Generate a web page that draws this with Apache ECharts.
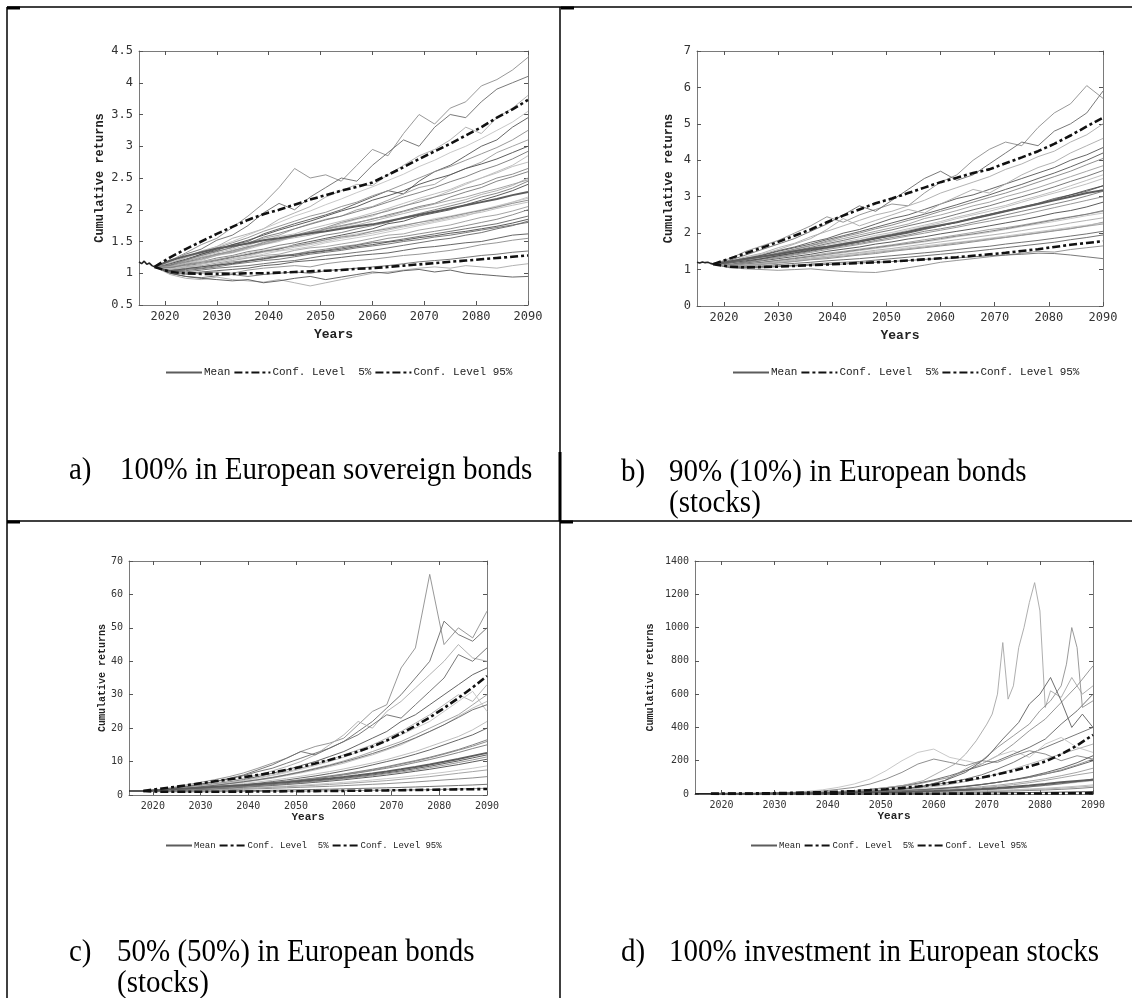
<!DOCTYPE html>
<html><head><meta charset="utf-8">
<script src="https://cdn.jsdelivr.net/npm/echarts@6/dist/echarts.min.js"></script>
<style>html,body{margin:0;padding:0;background:#fff}#c{width:1132px;height:998px}</style>
</head><body><div id="c"></div>
<script>
// ---------- data ----------
const YEARS = [2018,2021,2024,2027,2030,2033,2036,2039,2042,2045,2048,2051,2054,2057,2060,2063,2066,2069,2072,2075,2078,2081,2084,2087,2090];
const HIST_YEARS = [2015,2015.5,2016,2016.5,2017,2017.5,2018];
const X_TICKS = [2020,2030,2040,2050,2060,2070,2080,2090];
const LEGEND_NAMES = ['Mean','Conf. Level  5%','Conf. Level 95%'];
const CAPTIONS = {
  a: ['a)', '100% in European sovereign bonds'],
  b: ['b)', '90% (10%) in European bonds', '(stocks)'],
  c: ['c)', '50% (50%) in European bonds', '(stocks)'],
  d: ['d)', '100% investment in European stocks']
};

// panel a: 100% bonds
const A_HIST = [1.18,1.15,1.19,1.14,1.16,1.12,1.1];
const A_MEAN = [1.1,1.2,1.27,1.33,1.39,1.43,1.47,1.52,1.55,1.59,1.63,1.66,1.7,1.74,1.77,1.82,1.87,1.92,1.97,2.02,2.07,2.12,2.17,2.23,2.28];
const A_P95  = [1.1,1.25,1.38,1.5,1.62,1.73,1.84,1.93,2.0,2.08,2.16,2.23,2.3,2.36,2.43,2.55,2.67,2.8,2.92,3.04,3.17,3.3,3.45,3.58,3.73];
const A_P5   = [1.1,1.02,1.0,0.99,0.99,0.99,1.0,1.0,1.01,1.02,1.03,1.04,1.05,1.07,1.08,1.1,1.12,1.14,1.16,1.18,1.2,1.22,1.24,1.26,1.28];
const A_PATHS = [
  [1.1,1.2,1.32,1.45,1.55, 1.72,1.9,2.1,2.35,2.65, 2.5,2.55,2.45,2.7,2.95, 2.85,3.2,3.5,3.35,3.6, 3.7,3.95,4.05,4.2,4.4],
  [1.1,1.18,1.3,1.38,1.52, 1.6,1.75,1.95,2.1,2.0, 2.2,2.35,2.5,2.45,2.7, 2.9,3.1,3.0,3.3,3.5, 3.45,3.7,3.9,4.0,4.1],
  [1.1,1.15,1.25,1.35,1.42, 1.55,1.62,1.7,1.85,1.95, 2.05,2.2,2.3,2.4,2.38, 2.55,2.7,2.85,2.95,3.1, 3.3,3.2,3.45,3.6,3.8],
  [1.1,1.12,1.2,1.3,1.38, 1.45,1.5,1.62,1.7,1.78, 1.85,1.92,2.0,2.1,2.2, 2.3,2.25,2.45,2.6,2.7, 2.85,3.0,3.1,3.3,3.45],
  [1.1,1.16,1.22,1.28,1.35, 1.4,1.48,1.55,1.6,1.7, 1.78,1.85,1.9,2.0,2.05, 2.15,2.25,2.35,2.4,2.55, 2.65,2.75,2.9,3.0,3.1],
  [1.1,1.1,1.15,1.2,1.28, 1.32,1.38,1.45,1.5,1.58, 1.65,1.7,1.78,1.85,1.9, 2.0,2.05,2.15,2.2,2.3, 2.4,2.5,2.6,2.7,2.85],
  [1.1,1.13,1.18,1.22,1.3, 1.35,1.42,1.46,1.52,1.6, 1.62,1.7,1.75,1.8,1.85, 1.92,1.98,2.05,2.1,2.2, 2.28,2.35,2.45,2.52,2.6],
  [1.1,1.08,1.12,1.15,1.2, 1.25,1.3,1.35,1.38,1.45, 1.5,1.55,1.6,1.65,1.7, 1.78,1.82,1.9,1.95,2.0, 2.08,2.15,2.22,2.3,2.4],
  [1.1,1.1,1.1,1.15,1.18, 1.22,1.25,1.3,1.35,1.38, 1.42,1.48,1.52,1.56,1.6, 1.65,1.7,1.75,1.8,1.85, 1.9,1.98,2.05,2.12,2.2],
  [1.1,1.05,1.08,1.1,1.14, 1.18,1.2,1.25,1.28,1.3, 1.35,1.38,1.42,1.45,1.5, 1.55,1.58,1.62,1.66,1.7, 1.75,1.8,1.85,1.92,2.0],
  [1.1,1.04,1.02,1.05,1.08, 1.1,1.12,1.15,1.18,1.2, 1.24,1.28,1.3,1.33,1.36, 1.4,1.44,1.48,1.52,1.55, 1.6,1.64,1.7,1.75,1.82],
  [1.1,1.02,0.98,1.0,1.02, 1.0,1.05,1.08,1.1,1.12, 1.1,1.15,1.18,1.2,1.22, 1.25,1.28,1.3,1.33,1.36, 1.4,1.45,1.48,1.52,1.55],
  [1.1,1.0,0.95,0.93,0.96, 0.98,0.95,0.98,1.0,1.02, 1.0,1.04,1.06,1.08,1.1, 1.12,1.15,1.18,1.2,1.22, 1.25,1.28,1.3,1.33,1.35],
  [1.1,0.98,0.92,0.9,0.94, 0.9,0.88,0.86,0.9,0.85, 0.8,0.85,0.9,0.95,1.0, 1.02,1.05,1.08,1.1,1.08, 1.12,1.1,1.08,1.12,1.15],
  [1.1,1.0,0.95,0.92,0.9, 0.88,0.9,0.85,0.88,0.92, 0.95,0.9,0.94,0.98,1.02, 1.0,1.04,1.06,1.02,1.05, 1.0,0.98,0.96,0.94,0.95],
  [1.1,1.06,1.1,1.12,1.16, 1.2,1.24,1.28,1.3,1.36, 1.4,1.42,1.46,1.5,1.55, 1.6,1.62,1.68,1.72,1.76, 1.82,1.88,1.92,1.98,2.05],
  [1.1,1.14,1.2,1.26,1.32, 1.38,1.44,1.52,1.58,1.62, 1.7,1.76,1.82,1.88,1.95, 2.02,2.1,2.18,2.25,2.32, 2.42,2.5,2.58,2.68,2.75],
  [1.1,1.09,1.14,1.18,1.24, 1.28,1.34,1.38,1.44,1.48, 1.54,1.6,1.64,1.7,1.75, 1.8,1.88,1.94,2.0,2.06, 2.12,2.2,2.26,2.34,2.45],
  [1.1,1.15,1.22,1.3,1.36, 1.45,1.52,1.6,1.68,1.75, 1.82,1.9,1.98,2.05,2.15, 2.22,2.3,2.4,2.48,2.55, 2.65,2.72,2.8,2.9,3.0],
  [1.1,1.07,1.12,1.18,1.22, 1.26,1.32,1.36,1.4,1.44, 1.48,1.52,1.58,1.62,1.66, 1.72,1.76,1.8,1.86,1.9, 1.95,2.0,2.06,2.12,2.18],
  [1.1,1.12,1.17,1.24,1.3, 1.33,1.4,1.48,1.55,1.6, 1.66,1.72,1.8,1.86,1.92, 1.98,2.06,2.12,2.2,2.26, 2.34,2.4,2.5,2.56,2.65],
  [1.1,1.03,1.06,1.08,1.12, 1.16,1.2,1.22,1.26,1.3, 1.33,1.36,1.4,1.44,1.48, 1.5,1.54,1.58,1.62,1.66, 1.7,1.74,1.78,1.84,1.9],
  [1.1,1.16,1.25,1.32,1.4, 1.48,1.56,1.66,1.74,1.82, 1.9,1.96,2.05,2.12,2.22, 2.3,2.4,2.5,2.6,2.68, 2.78,2.88,2.98,3.1,3.25],
  [1.1,1.05,1.04,1.07,1.1, 1.14,1.17,1.2,1.22,1.26, 1.3,1.33,1.36,1.4,1.43, 1.46,1.5,1.53,1.57,1.6, 1.64,1.68,1.72,1.76,1.8],
  [1.1,1.1,1.16,1.22,1.28, 1.34,1.4,1.46,1.52,1.56, 1.6,1.66,1.72,1.76,1.82, 1.88,1.94,2.0,2.04,2.1, 2.16,2.24,2.3,2.38,2.5],
  [1.1,1.02,1.0,1.02,1.04, 1.06,1.08,1.12,1.14,1.18, 1.2,1.22,1.25,1.28,1.3, 1.32,1.36,1.4,1.42,1.45, 1.48,1.5,1.55,1.6,1.62],
  [1.1,1.11,1.19,1.25,1.29, 1.36,1.41,1.49,1.53,1.58, 1.64,1.69,1.74,1.79,1.86, 1.9,1.97,2.03,2.09,2.15, 2.2,2.27,2.33,2.4,2.47],
  [1.1,1.06,1.09,1.14,1.19, 1.23,1.27,1.33,1.36,1.41, 1.45,1.5,1.55,1.59,1.63, 1.68,1.73,1.77,1.82,1.87, 1.92,1.96,2.02,2.07,2.12],
  [1.1,1.13,1.21,1.28,1.34, 1.41,1.47,1.57,1.63,1.7, 1.77,1.84,1.9,1.97,2.04, 2.12,2.2,2.27,2.35,2.44, 2.52,2.62,2.7,2.8,2.92],
  [1.1,1.04,1.07,1.1,1.13, 1.15,1.19,1.23,1.27,1.28, 1.32,1.35,1.38,1.42,1.45, 1.49,1.52,1.56,1.59,1.63, 1.66,1.7,1.74,1.79,1.85],
  [1.1,1.17,1.24,1.33,1.42, 1.5,1.6,1.7,1.8,1.9, 1.98,2.08,2.17,2.27,2.36, 2.46,2.56,2.68,2.78,2.9, 3.0,3.12,3.25,3.38,3.55],
  [1.1,1.09,1.13,1.17,1.21, 1.26,1.29,1.34,1.39,1.43, 1.47,1.53,1.57,1.6,1.66, 1.7,1.75,1.8,1.84,1.89, 1.94,1.99,2.04,2.1,2.15]
];

// panel b: 90/10
const B_HIST = [1.2,1.18,1.21,1.19,1.2,1.17,1.15];
const B_MEAN = [1.15,1.22,1.3,1.36,1.42,1.5,1.57,1.63,1.7,1.78,1.87,1.95,2.04,2.14,2.22,2.3,2.4,2.5,2.6,2.7,2.8,2.9,3.0,3.1,3.18];
const B_P95  = [1.15,1.3,1.45,1.6,1.76,1.93,2.1,2.3,2.48,2.65,2.82,2.95,3.1,3.25,3.4,3.52,3.65,3.75,3.92,4.08,4.25,4.45,4.68,4.93,5.17];
const B_P5   = [1.15,1.08,1.06,1.07,1.08,1.1,1.12,1.14,1.16,1.18,1.2,1.22,1.25,1.28,1.31,1.34,1.38,1.42,1.46,1.51,1.56,1.62,1.68,1.73,1.78];
const B_PATHS = [
  [1.15,1.3,1.5,1.65,1.8, 2.0,2.2,2.45,2.3,2.5, 2.65,2.8,2.75,3.1,3.4, 3.6,4.0,4.3,4.5,4.4, 4.9,5.3,5.55,6.05,5.7],
  [1.15,1.25,1.4,1.55,1.7, 1.85,2.05,2.25,2.5,2.75, 2.6,2.9,3.2,3.5,3.7, 3.45,3.6,3.9,4.2,4.5, 4.4,4.8,5.0,5.3,5.9],
  [1.15,1.22,1.35,1.45,1.6, 1.72,1.9,2.05,2.2,2.35, 2.5,2.6,2.75,2.9,3.1, 3.25,3.4,3.55,3.75,3.9, 4.1,4.25,4.5,4.7,5.0],
  [1.15,1.2,1.3,1.4,1.52, 1.62,1.75,1.85,2.0,2.1, 2.25,2.4,2.5,2.65,2.8, 2.95,3.05,3.2,3.35,3.5, 3.65,3.8,4.0,4.15,4.35],
  [1.15,1.18,1.26,1.35,1.45, 1.55,1.65,1.75,1.85,1.95, 2.05,2.15,2.25,2.4,2.5, 2.62,2.75,2.85,3.0,3.12, 3.25,3.4,3.55,3.7,3.85],
  [1.15,1.2,1.25,1.32,1.4, 1.48,1.56,1.63,1.72,1.8, 1.9,1.98,2.08,2.18,2.28, 2.4,2.5,2.6,2.72,2.85, 2.98,3.1,3.22,3.35,3.5],
  [1.15,1.15,1.2,1.28,1.35, 1.42,1.5,1.58,1.65,1.72, 1.8,1.88,1.95,2.05,2.12, 2.2,2.3,2.4,2.5,2.6, 2.7,2.8,2.9,3.02,3.15],
  [1.15,1.12,1.18,1.24,1.3, 1.36,1.42,1.5,1.56,1.62, 1.7,1.76,1.84,1.9,1.98, 2.05,2.12,2.2,2.28,2.36, 2.45,2.55,2.62,2.72,2.85],
  [1.15,1.1,1.14,1.18,1.24, 1.3,1.35,1.4,1.46,1.52, 1.58,1.64,1.7,1.76,1.82, 1.9,1.96,2.02,2.1,2.18, 2.25,2.32,2.4,2.48,2.55],
  [1.15,1.08,1.1,1.14,1.18, 1.22,1.27,1.3,1.35,1.4, 1.44,1.5,1.55,1.6,1.65, 1.7,1.76,1.82,1.88,1.94, 2.0,2.06,2.12,2.2,2.3],
  [1.15,1.06,1.05,1.08,1.1, 1.12,1.15,1.18,1.2,1.22, 1.26,1.3,1.34,1.38,1.42, 1.46,1.5,1.55,1.6,1.65, 1.7,1.75,1.82,1.88,1.95],
  [1.15,1.05,1.02,1.0,0.98, 1.0,1.02,0.98,0.95,0.93, 0.92,0.98,1.05,1.12,1.2, 1.25,1.3,1.35,1.4,1.45, 1.5,1.48,1.55,1.6,1.65],
  [1.15,1.08,1.06,1.05,1.08, 1.1,1.12,1.14,1.15,1.18, 1.2,1.22,1.25,1.28,1.3, 1.32,1.35,1.38,1.4,1.42, 1.45,1.44,1.4,1.35,1.3],
  [1.15,1.22,1.32,1.42,1.55, 1.7,1.85,2.1,2.4,2.2, 2.35,2.5,2.65,2.55,2.8, 3.0,3.2,3.1,3.35,3.6, 3.8,3.95,4.2,4.4,4.6],
  [1.15,1.14,1.22,1.3,1.38, 1.46,1.54,1.6,1.68,1.76, 1.85,1.92,2.0,2.1,2.2, 2.3,2.42,2.52,2.62,2.72, 2.82,2.95,3.05,3.15,3.3],
  [1.15,1.12,1.16,1.2,1.26, 1.32,1.38,1.45,1.5,1.56, 1.62,1.68,1.75,1.82,1.88, 1.95,2.02,2.1,2.15,2.22, 2.3,2.38,2.45,2.52,2.6],
  [1.15,1.16,1.24,1.32,1.4, 1.5,1.58,1.68,1.76,1.84, 1.94,2.02,2.12,2.22,2.32, 2.44,2.54,2.66,2.76,2.9, 3.02,3.15,3.3,3.45,3.6],
  [1.15,1.1,1.15,1.2,1.25, 1.3,1.36,1.42,1.48,1.54, 1.6,1.66,1.72,1.78,1.85, 1.92,1.98,2.05,2.12,2.2, 2.28,2.36,2.44,2.52,2.62],
  [1.15,1.18,1.24,1.3,1.38, 1.45,1.52,1.6,1.68,1.76, 1.84,1.94,2.02,2.12,2.2, 2.3,2.4,2.5,2.6,2.7, 2.8,2.92,3.05,3.18,3.3],
  [1.15,1.09,1.12,1.16,1.2, 1.25,1.3,1.34,1.4,1.45, 1.5,1.54,1.6,1.65,1.7, 1.75,1.8,1.86,1.92,1.98, 2.04,2.1,2.16,2.22,2.28],
  [1.15,1.2,1.28,1.36,1.46, 1.56,1.66,1.78,1.9,2.0, 2.12,2.22,2.35,2.46,2.6, 2.72,2.85,2.98,3.1,3.25, 3.4,3.55,3.7,3.88,4.05],
  [1.15,1.07,1.08,1.1,1.14, 1.17,1.2,1.24,1.27,1.3, 1.34,1.38,1.42,1.46,1.5, 1.55,1.6,1.64,1.7,1.75, 1.8,1.86,1.92,1.98,2.05],
  [1.15,1.13,1.19,1.25,1.33, 1.4,1.47,1.55,1.62,1.69, 1.77,1.84,1.92,2.0,2.08, 2.16,2.25,2.33,2.42,2.5, 2.6,2.7,2.8,2.9,3.0],
  [1.15,1.19,1.27,1.35,1.43, 1.52,1.61,1.71,1.8,1.9, 2.0,2.09,2.2,2.3,2.4, 2.52,2.64,2.75,2.88,3.0, 3.13,3.27,3.42,3.56,3.72],
  [1.15,1.11,1.13,1.17,1.22, 1.27,1.32,1.37,1.42,1.47, 1.53,1.58,1.64,1.7,1.76, 1.82,1.88,1.94,2.0,2.07, 2.14,2.2,2.28,2.35,2.42],
  [1.15,1.21,1.3,1.39,1.5, 1.6,1.7,1.82,1.93,2.04, 2.16,2.28,2.4,2.52,2.65, 2.78,2.92,3.05,3.2,3.34, 3.5,3.65,3.82,4.0,4.2],
  [1.15,1.09,1.11,1.15,1.19, 1.23,1.28,1.33,1.37,1.42, 1.47,1.52,1.57,1.62,1.67, 1.73,1.78,1.84,1.89,1.95, 2.01,2.07,2.13,2.19,2.25]
];

// panel c: 50/50
const C_HIST = [1.2,1.2,1.21,1.2,1.2,1.19,1.2];
const C_MEAN = [1.2,1.45,1.7,1.95,2.2,2.45,2.7,2.95,3.25,3.55,3.85,4.2,4.55,4.95,5.4,5.9,6.45,7.05,7.7,8.4,9.15,9.95,10.8,11.7,12.6];
const C_P95  = [1.2,1.8,2.3,2.9,3.5,4.1,4.7,5.3,6.0,6.7,7.5,8.4,9.4,10.5,11.7,13.0,14.5,16.3,18.4,20.7,23.2,26.0,29.0,32.2,35.6];
const C_P5   = [1.2,1.0,0.95,0.95,0.95,0.97,1.0,1.02,1.05,1.08,1.1,1.13,1.16,1.2,1.24,1.28,1.33,1.38,1.44,1.5,1.56,1.62,1.68,1.74,1.8];
const C_PATHS = [
  [1.2,1.6,2.2,3.0,3.8, 4.6,5.5,6.6,8.0,9.5, 11,13,14.5,15.5,17, 21,25,27,38,44, 66,45,50,47,55],
  [1.2,1.5,2.0,2.6,3.3, 4.0,4.8,5.8,7.0,8.0, 9.5,11,12.5,14,16, 19,22,26,30,35, 40,52,48,46,50],
  [1.2,1.4,1.9,2.4,3.0, 3.6,4.3,5.0,6.0,7.2, 8.5,10,12,15,18, 22,20,25,28,32, 36,40,45,41,40],
  [1.2,1.5,1.9,2.3,2.8, 3.3,3.9,4.6,5.5,6.5, 7.5,8.8,10,11.5,13, 15,17,19,22,24, 27,30,33,36,38],
  [1.2,1.4,1.7,2.1,2.5, 3.0,3.5,4.0,4.6,5.3, 6.1,7,8,9,10.2, 11.5,13,14.5,16,18, 20,22,24,27,30],
  [1.2,1.35,1.6,1.9,2.2, 2.6,3.0,3.4,3.9,4.4, 5.0,5.6,6.3,7,7.8, 8.7,9.6,10.6,11.8,13, 14.5,16,17.5,19.5,22],
  [1.2,1.3,1.5,1.75,2.0, 2.3,2.6,2.9,3.3,3.7, 4.1,4.6,5.1,5.7,6.3, 7,7.7,8.5,9.4,10.3, 11.3,12.4,13.6,15,16.5],
  [1.2,1.25,1.4,1.6,1.8, 2.0,2.25,2.5,2.8,3.1, 3.4,3.8,4.2,4.6,5.0, 5.5,6,6.6,7.2,7.9, 8.6,9.4,10.2,11.1,12],
  [1.2,1.2,1.3,1.45,1.6, 1.75,1.9,2.1,2.3,2.5, 2.7,2.95,3.2,3.5,3.8, 4.1,4.5,4.9,5.3,5.8, 6.3,6.8,7.4,8,8.7],
  [1.2,1.1,1.2,1.3,1.4, 1.5,1.6,1.72,1.85,2.0, 2.15,2.3,2.45,2.6,2.8, 3,3.2,3.4,3.65,3.9, 4.2,4.5,4.8,5.1,5.5],
  [1.2,1.05,1.05,1.1,1.15, 1.2,1.25,1.3,1.35,1.42, 1.5,1.58,1.66,1.75,1.85, 1.95,2.05,2.15,2.27,2.4, 2.55,2.7,2.85,3.0,3.2],
  [1.2,1.0,0.95,0.9,0.92, 0.95,1.0,1.02,1.05,1.1, 1.12,1.15,1.2,1.25,1.3, 1.35,1.4,1.45,1.5,1.55, 1.6,1.7,1.8,1.9,2.0],
  [1.2,1.5,1.9,2.5,3.2, 4.0,5.0,6.0,7.5,9, 11,13,12,14,16, 18,21,24,23,27, 31,35,42,40,44],
  [1.2,1.45,1.8,2.2,2.7, 3.2,3.8,4.4,5.2,6, 7,8,9.2,10.5,12, 13.5,15,17,19,21.5, 24,27,30,28,33],
  [1.2,1.3,1.55,1.8,2.1, 2.4,2.75,3.1,3.5,4, 4.5,5.1,5.7,6.4,7.2, 8,9,10,11,12.2, 13.5,15,16.5,18,20],
  [1.2,1.15,1.25,1.35,1.5, 1.65,1.8,1.95,2.1,2.3, 2.5,2.7,2.9,3.15,3.4, 3.7,4,4.3,4.7,5.1, 5.5,6,6.5,7,7.5],
  [1.2,1.35,1.65,2.0,2.4, 2.8,3.3,3.8,4.4,5.0, 5.8,6.6,7.5,8.5,9.5, 10.8,12,13.5,15,17, 19,21,23.5,26,28],
  [1.2,1.25,1.45,1.65,1.9, 2.15,2.45,2.75,3.1,3.5, 3.9,4.35,4.85,5.4,6, 6.6,7.3,8,8.8,9.7, 10.6,11.6,12.7,13.9,15],
  [1.2,1.2,1.35,1.5,1.7, 1.9,2.1,2.35,2.6,2.85, 3.15,3.45,3.8,4.15,4.55, 5,5.45,5.95,6.5,7.1, 7.7,8.4,9.1,9.9,10.7],
  [1.2,1.4,1.75,2.15,2.6, 3.1,3.7,4.3,5,5.8, 6.7,7.7,8.8,10,11.3, 12.8,14.4,16.2,18,20, 22,25,28,31,25],
  [1.2,1.3,1.5,1.72,1.95, 2.2,2.5,2.8,3.15,3.55, 4.0,4.45,5.0,5.55,6.15, 6.8,7.5,8.3,9.2,10.1, 11.1,12.2,13.4,14.6,16],
  [1.2,1.38,1.7,2.05,2.45, 2.9,3.4,3.95,4.55,5.2, 6,6.85,7.8,8.8,9.9, 11.1,12.4,13.8,15.4,17.1, 19,21,23.2,25.5,27],
  [1.2,1.22,1.38,1.55,1.75, 1.95,2.2,2.45,2.7,3.0, 3.3,3.65,4.0,4.4,4.85, 5.3,5.8,6.35,6.9,7.5, 8.2,8.9,9.7,10.5,11.4]
];

// panel d: 100% stocks
const D_HIST = [1.2,1.2,1.21,1.2,1.2,1.19,1.2];
const D_MEAN = [1.2,1.6,2.0,2.4,2.9,3.5,4.2,5,6,7.2,8.6,10.3,12.3,14.7,17.5,21,25,30,36,43,51,60,70,78,85];
const D_P95  = [1.2,2,2.8,3.8,5,6.5,8.5,11,14,18,23,29,36,45,56,68,82,99,118,140,165,195,238,292,355];
const D_P5   = [1.2,0.9,0.85,0.85,0.9,0.95,1.0,1.05,1.1,1.2,1.3,1.4,1.5,1.65,1.8,2.0,2.2,2.4,2.65,2.9,3.2,3.5,3.9,4.4,5.0];
const D_PATHS = [
  [1.2,1.5,2,3,4, 5.5,7.5,10,14,19, 26,35,45,60,80, 100,140,180,230,300, 380,450,550,650,770],
  [1.2,1.4,1.9,2.6,3.5, 4.6,6,8,10.5,14, 18,24,32,42,55, 70,90,115,150,190, 240,280,320,360,400],
  [1.2,1.4,1.8,2.4,3.2, 4.2,5.5,7,9,12, 15,20,26,34,45, 58,75,95,120,150, 180,210,240,270,300],
  [1.2,1.3,1.7,2.2,2.8, 3.6,4.6,5.8,7.3,9, 11,14,18,23,29, 36,45,56,70,85, 100,120,140,170,200],
  [1.2,1.3,1.6,2,2.5, 3.1,3.8,4.7,5.8,7, 8.5,10.5,13,16,20, 25,31,38,46,56, 68,82,98,115,130],
  [1.2,1.2,1.4,1.7,2.1, 2.6,3.2,3.9,4.7,5.6, 6.8,8.2,10,12,14.5, 17.5,21,25,30,36, 43,51,60,70,80],
  [1.2,1.1,1.3,1.5,1.8, 2.1,2.5,3,3.5,4.1, 4.8,5.6,6.5,7.6,8.8, 10.2,11.8,13.6,15.6,18, 21,24,28,33,40],
  [1.2,1.0,1.1,1.2,1.3, 1.5,1.7,1.9,2.1,2.4, 2.7,3,3.4,3.8,4.3, 4.9,5.5,6.2,7,8, 9,10.3,11.6,13.2,15],
  [1.2,1.6,2.5,4,6.5, 10,16,25,40,60, 90,140,200,250,270, 220,200,180,230,260, 220,300,340,280,250],
  [1.2,1.5,2.2,3.5,5.5, 8,12,18,28,40, 60,90,130,180,210, 190,170,200,190,230, 260,240,200,230,210],
  [1.2,1.4,2,2.8,4, 5.5,7.5,10,14,20, 28,38,50,65,85, 110,140,170,200,240, 280,330,420,500,600],
  [1.2,1.3,1.8,2.4,3.2, 4.2,5.5,7,9,11.5, 14.5,18,22,27,33, 40,48,58,70,84, 100,120,145,175,210],
  [1.2,1.25,1.5,1.8,2.2, 2.7,3.3,4,4.8,5.8, 7,8.4,10,12,14.5, 17.5,21,25,30,36, 43,52,62,74,90],
  [1.2,1.15,1.35,1.55,1.85, 2.2,2.6,3.1,3.7,4.4, 5.2,6.1,7.2,8.5,10, 11.8,13.9,16.3,19,22, 26,30,35,41,48],
  [1.2,1.35,1.7,2.2,2.9, 3.7,4.7,6,7.6,9.6, 12,15,19,24,30, 37,46,57,70,86, 105,128,155,188,230],
  [1.2,1.3,1.65,2.1,2.7, 3.4,4.3,5.4,6.8,8.5, 10.6,13.2,16.3,20,24.6, 30,36.5,44,53,64, 77,92,110,130,155],
  [1.2,1.2,1.45,1.75,2.1, 2.5,3,3.6,4.3,5.1, 6.1,7.2,8.5,10,11.8, 13.9,16.3,19,22.2,25.8, 30,35,40.5,47,55]
];
// extreme paths of panel d, own (finer) year grids
const D_X1_YEARS = [2018,2024,2030,2036,2042,2046,2050,2054,2058,2061,2064,2066,2068,2070,2071,2072,2073,2074,2075,2076,2077,2078,2079,2080,2081,2082,2084,2086,2088,2090];
const D_X1 =       [1.2,2,4,8,15,22,35,50,80,130,180,240,320,420,480,600,910,570,650,880,1000,1150,1270,1100,520,620,580,700,600,650];
const D_X2_YEARS = [2018,2024,2030,2036,2042,2048,2054,2058,2062,2066,2069,2072,2075,2078,2080,2082,2084,2085,2086,2087,2088,2090];
const D_X2 =       [1.2,1.8,3.5,6,10,18,30,48,80,150,200,280,350,420,500,560,650,780,1000,880,520,560];
const D_X3_YEARS = [2018,2024,2030,2036,2042,2048,2054,2058,2062,2066,2070,2073,2076,2078,2080,2082,2084,2086,2088,2090];
const D_X3 =       [1.2,1.6,3,5,9,16,28,45,80,130,220,330,430,540,600,700,560,400,480,400];

// ---------- chart ----------
const GRAYS = ['#8c8c8c','#6a6a6a','#a9a9a9','#555555','#9b9b9b','#b8b8b8','#777777','#4a4a4a','#c2c2c2','#828282','#636363'];
const panels = [
  {key:'a', grid:{left:139, top:51, width:389, height:254}, y:{min:0.5,max:4.5,interval:0.5}, fs:12, nameGap:33, xGap:23, hist:A_HIST, mean:A_MEAN, p5:A_P5, p95:A_P95, paths:A_PATHS, legend:{left:160, top:362}, lfs:11},
  {key:'b', grid:{left:697, top:51, width:406, height:255}, y:{min:0,max:7,interval:1}, fs:12, nameGap:22, xGap:23, hist:B_HIST, mean:B_MEAN, p5:B_P5, p95:B_P95, paths:B_PATHS, legend:{left:727, top:362}, lfs:11},
  {key:'c', grid:{left:129, top:561, width:358, height:234}, y:{min:0,max:70,interval:10}, fs:10, nameGap:22, xGap:17, hist:C_HIST, mean:C_MEAN, p5:C_P5, p95:C_P95, paths:C_PATHS, legend:{left:160, top:836}, lfs:9},
  {key:'d', grid:{left:695, top:561, width:398, height:233}, y:{min:0,max:1400,interval:200}, fs:10, nameGap:40, xGap:17, hist:D_HIST, mean:D_MEAN, p5:D_P5, p95:D_P95, paths:D_PATHS, legend:{left:745, top:836}, lfs:9}
];

const grids=[], xAxes=[], yAxes=[], series=[], legends=[];
const monoTick = '"DejaVu Sans Mono", monospace';
const monoName = '"Liberation Mono", "Courier New", monospace';
const pairs = (xs, ys) => ys.map((v,i)=>[xs[i], v]).filter(p=>p[0]!==undefined);
const plain = v => String(v);

panels.forEach((p, gi) => {
  grids.push(Object.assign({containLabel:false, show:false}, p.grid));
  const xi = xAxes.length, yi = yAxes.length;
  const common = {min:2015, max:2090, type:'value', gridIndex:gi,
    axisLine:{show:true, onZero:false, lineStyle:{color:'#7a7a7a', width:1}}, splitLine:{show:false}};
  xAxes.push(Object.assign({}, common, {position:'bottom',
    name:'Years', nameLocation:'middle', nameGap:p.xGap,
    nameTextStyle:{fontFamily:monoName, fontWeight:'bold', fontSize:p.fs+1, color:'#222'},
    axisTick:{show:true, inside:true, length:4, customValues:X_TICKS, lineStyle:{color:'#555'}},
    axisLabel:{show:true, customValues:X_TICKS, formatter:plain, fontFamily:monoTick, fontSize:p.fs, color:'#333', margin:6}}));
  xAxes.push(Object.assign({}, common, {position:'top',
    axisTick:{show:true, inside:true, length:4, customValues:X_TICKS, lineStyle:{color:'#555'}},
    axisLabel:{show:false}}));
  const ycommon = {type:'value', gridIndex:gi, min:p.y.min, max:p.y.max, interval:p.y.interval,
    axisLine:{show:true, onZero:false, lineStyle:{color:'#7a7a7a', width:1}}, splitLine:{show:false}};
  yAxes.push(Object.assign({}, ycommon, {position:'left',
    name:'Cumulative returns', nameLocation:'middle', nameGap:p.nameGap, nameRotate:90,
    nameTextStyle:{fontFamily:monoName, fontWeight:'bold', fontSize:p.fs, color:'#222'},
    axisTick:{show:true, inside:true, length:4, lineStyle:{color:'#555'}},
    axisLabel:{formatter:plain, fontFamily:monoTick, fontSize:p.fs, color:'#333', margin:6}}));
  yAxes.push(Object.assign({}, ycommon, {position:'right',
    axisTick:{show:true, inside:true, length:4, lineStyle:{color:'#555'}},
    axisLabel:{show:false}}));

  const base = {type:'line', xAxisIndex:xi, yAxisIndex:yi, showSymbol:false, symbol:'none', silent:true, animation:false};
  p.paths.forEach((arr, k) => {
    const col = GRAYS[k % GRAYS.length];
    series.push(Object.assign({}, base, {name:p.key+'path'+k, data:pairs(YEARS, arr), z:2,
      itemStyle:{color:col}, lineStyle:{color:col, width:0.9}}));
  });
  if (p.key === 'd') {
    [[D_X1_YEARS, D_X1, '#a5a5a5'], [D_X2_YEARS, D_X2, '#8f8f8f'], [D_X3_YEARS, D_X3, '#5e5e5e']].forEach((e, k) => {
      series.push(Object.assign({}, base, {name:'dx'+k, data:pairs(e[0], e[1]), z:2, itemStyle:{color:e[2]}, lineStyle:{color:e[2], width:0.9}}));
    });
  }
  series.push(Object.assign({}, base, {name:p.key+'hist', data:pairs(HIST_YEARS, p.hist), z:3, itemStyle:{color:'#222'}, lineStyle:{color:'#222', width:1.6}}));
  series.push(Object.assign({}, base, {name:LEGEND_NAMES[0], data:pairs(YEARS, p.mean), z:4, itemStyle:{color:'#5c5c5c'}, lineStyle:{color:'#5c5c5c', width:2}}));
  series.push(Object.assign({}, base, {name:LEGEND_NAMES[1], data:pairs(YEARS, p.p5), z:5, itemStyle:{color:'#111'}, lineStyle:{color:'#111', width:2.6, type:[8,3,3,3]}}));
  series.push(Object.assign({}, base, {name:LEGEND_NAMES[2], data:pairs(YEARS, p.p95), z:5, itemStyle:{color:'#111'}, lineStyle:{color:'#111', width:2.6, type:[8,3,3,3]}}));

  legends.push({data:LEGEND_NAMES, left:p.legend.left, top:p.legend.top, orient:'horizontal',
    itemWidth: p.lfs===11?36:26, itemHeight:8, itemGap:3, selectedMode:false,
    itemStyle:{opacity:0},
    textStyle:{fontFamily:monoName, fontSize:p.lfs, color:'#222', padding:[0,0,0,-3]}});
});

// table lines and captions
const L = (x1,y1,x2,y2,w) => ({type:'line', silent:true, z:100, shape:{x1,y1,x2,y2}, style:{stroke:'#000', lineWidth:w||1.5}});
const T = (text,x,y) => ({type:'text', silent:true, z:100, x:x, y:y, scaleY:1.08,
  style:{text:text, font:'29px "Liberation Serif", "Times New Roman", serif', fill:'#000', verticalAlign:'middle', textVerticalAlign:'middle'}});
const graphics = [
  L(7,7,1132,7), L(7,7,7,998), L(560,7,560,998), L(7,521,1132,521),
  L(7,8,20,8,3), L(561,8,574,8,3), L(560,452,560,521,3), L(560,522,573,522,3), L(7,522,20,522,3),
  T(CAPTIONS.a[0],69,471), T(CAPTIONS.a[1],120,471),
  T(CAPTIONS.b[0],621,473), T(CAPTIONS.b[1],669,473), T(CAPTIONS.b[2],669,504),
  T(CAPTIONS.c[0],69,953), T(CAPTIONS.c[1],117,953), T(CAPTIONS.c[2],117,984),
  T(CAPTIONS.d[0],621,953), T(CAPTIONS.d[1],669,953)
];

const chart = echarts.init(document.getElementById('c'), null, {renderer:'canvas'});
chart.setOption({
  backgroundColor:'#fff', animation:false,
  grid:grids, xAxis:xAxes, yAxis:yAxes, series:series, legend:legends, graphic:graphics
});
</script></body></html>
